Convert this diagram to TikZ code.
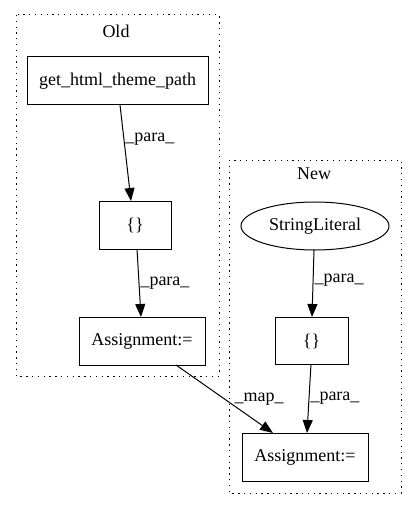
\documentclass[tikz,border=0pt]{standalone}
\usepackage{fontspec}
\setmainfont{Liberation Serif}
\usetikzlibrary{arrows.meta,shapes.geometric}
\begin{document}
\begin{tikzpicture}[x=1pt,y=-1pt,
  box/.style={draw,line width=1pt,rectangle,inner sep=0pt,font=\fontsize{18}{20}\selectfont},
  oval/.style={draw,line width=1pt,ellipse,inner sep=0pt,font=\fontsize{18}{20}\selectfont},
  cluster/.style={draw,line width=1pt,dash pattern=on 1.3pt off 4.5pt},
  lbl/.style={font=\fontsize{18}{20}\selectfont},
  edge/.style={line width=1pt,-{Triangle[length=13pt,width=10pt]}},
  elbl/.style={font=\fontsize{18}{20}\selectfont,anchor=west,inner sep=1pt}]
\useasboundingbox (0,0) rectangle (416,508);
\draw[cluster] (16,15) rectangle (219,376);
\node[lbl] (oldl) at (116,31) {Old};
\draw[cluster] (229,160) rectangle (401,493);
\node[lbl] (newl) at (314,174) {New};
\node[box,minimum width=181pt,minimum height=48pt] (g) at (117.5,81) {get\_html\_theme\_path};
\node[box,minimum width=72pt,minimum height=48pt] (o1) at (135,225) {\{\}};
\node[box,minimum width=126pt,minimum height=48pt] (oa) at (142,341) {Assignment:=};
\node[oval,minimum width=148pt,minimum height=48pt] (s) at (315,226) {StringLiteral};
\node[box,minimum width=73pt,minimum height=47pt] (n1) at (311.5,341) {\{\}};
\node[box,minimum width=126pt,minimum height=48pt] (na) at (305,457) {Assignment:=};
\coordinate (ge) at (120,105);
\coordinate (o1t) at (131,201);
\coordinate (o1b) at (137,249);
\coordinate (oat) at (141,317);
\coordinate (oab) at (176,365);
\coordinate (nat) at (273,433);
\coordinate (st) at (314,250);
\coordinate (n1t) at (312,317);
\coordinate (n1b) at (311,364);
\coordinate (nat2) at (307,433);
\draw[edge] (ge) -- node[elbl,pos=0.36] {\_para\_} (o1t);
\draw[edge] (o1b) -- node[elbl,pos=0.5] {\_para\_} (oat);
\draw[edge] (oab) -- node[elbl,pos=0.62,anchor=south west,inner sep=0pt,xshift=-2pt,yshift=1pt] {\_map\_} (nat);
\draw[edge] (st) -- node[elbl,pos=0.45] {\_para\_} (n1t);
\draw[edge] (n1b) -- node[elbl,pos=0.5] {\_para\_} (nat2);
\end{tikzpicture}
\end{document}
